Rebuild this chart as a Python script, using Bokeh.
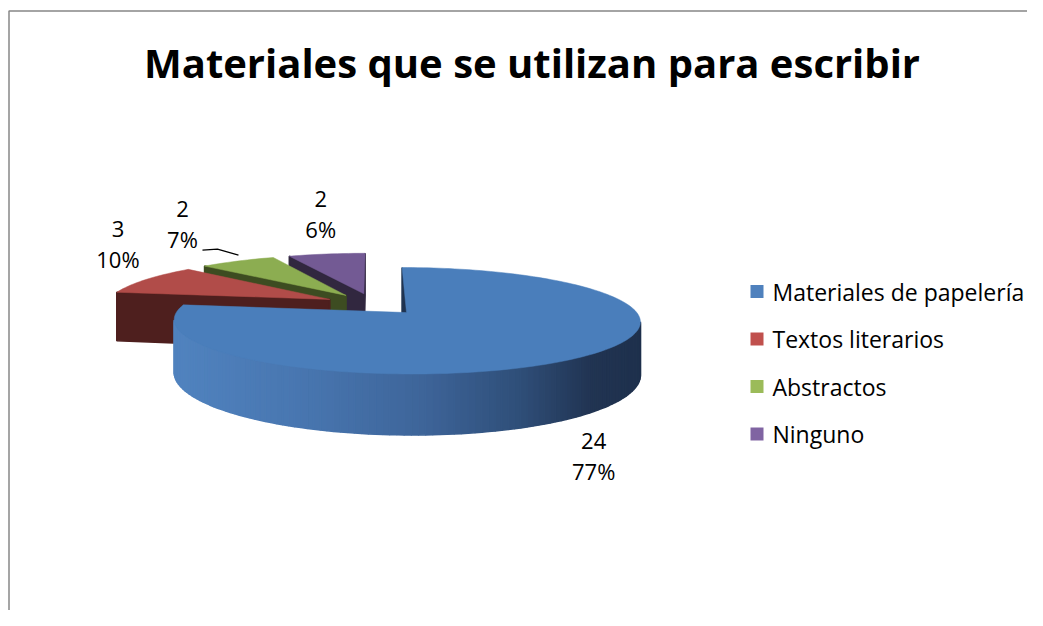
import numpy as np
from bokeh.plotting import figure
from bokeh.models import Range1d
from bokeh.core.properties import value
from bokeh.embed import file_html
from bokeh.resources import INLINE

# ---------------- data ----------------
TITLE = "Materiales que se utilizan para escribir"
CATEGORIES = ["Materiales de papelería", "Textos literarios", "Abstractos", "Ninguno"]
VALUES = [24, 3, 2, 2]
PERCENT_LABELS = ["77%", "10%", "7%", "6%"]

# ---------------- style ----------------
TOP_COLORS = ["#4A7EBB", "#B14C49", "#8CAD51", "#735A94"]
WALL_COLORS = ["#1F3350", "#4E1F1E", "#3D4C21", "#31273F"]
LEGEND_COLORS = ["#4F81BD", "#C0504D", "#9BBB59", "#8064A2"]
BLUE_GRAD = [(181, (80, 130, 190)), (300, (72, 118, 176)), (420, (62, 101, 154)),
             (520, (47, 78, 120)), (590, (33, 52, 82)), (645, (30, 48, 76))]
FONT = "Open Sans"

# geometry of the projected 3D pie
CX, CY = 373.0, 303.6
R, K = 224.5, 49.4
PERSP = 0.15
PERSP_X = 0.15
THICK = 50.3
EXPLODE = 0.22
LABEL_OFFSETS = [(13, 99), (-28, -36), (-55, -37), (-6, -40)]


def proj(X, Z, h=0.0):
    f = 1.0 / (1.0 + PERSP * Z)
    fx = 1.0 / (1.0 + PERSP_X * Z)
    return CX + X * R * fx, CY - Z * K * f + h * f


def area(xs, ys):
    s = 0.0
    n = len(xs)
    for i in range(n):
        j = (i + 1) % n
        s += xs[i] * ys[j] - xs[j] * ys[i]
    return s / 2.0


def grad_color(x):
    if x <= BLUE_GRAD[0][0]:
        c = BLUE_GRAD[0][1]
    elif x >= BLUE_GRAD[-1][0]:
        c = BLUE_GRAD[-1][1]
    else:
        for (x0, c0), (x1, c1) in zip(BLUE_GRAD[:-1], BLUE_GRAD[1:]):
            if x0 <= x <= x1:
                t = (x - x0) / (x1 - x0)
                c = tuple(c0[k] + (c1[k] - c0[k]) * t for k in range(3))
                break
    return "#%02x%02x%02x" % tuple(int(round(v)) for v in c)


W, H = 1027, 610
p = figure(width=W, height=H, output_backend="svg", toolbar_location=None,
           x_range=Range1d(0, W), y_range=Range1d(H, 0),
           min_border=0, outline_line_color=None, background_fill_color="white",
           border_fill_color="white")
p.axis.visible = False
p.grid.visible = False

# chart border (only top and left visible in reference)
p.line([8.5, 8.5, 1045], [630, 10.5, 10.5], line_color="#878787", line_width=1.5)

# title
p.text(x=[531.5], y=[62], text=[TITLE], text_font=value(FONT), text_font_style="bold",
       text_font_size=value("40px"), text_align="center", text_baseline="middle",
       text_color="black")

# ---------------- pie ----------------
total = float(sum(VALUES))
fracs = np.array(VALUES) / total
ends = np.cumsum(fracs) * 2 * np.pi
starts = ends - fracs * 2 * np.pi

slices = []
for i in range(len(VALUES)):
    a0, a1 = starts[i], ends[i]
    mid = 0.5 * (a0 + a1)
    ox, oz = EXPLODE * np.sin(mid), EXPLODE * np.cos(mid)
    n = max(4, int(np.degrees(a1 - a0) / 1.5))
    th = np.linspace(a0, a1, n)
    pts = [(ox, oz)] + [(ox + np.sin(t), oz + np.cos(t)) for t in th] + [(ox, oz)]
    slices.append(dict(i=i, mid=mid, ox=ox, oz=oz, pts=pts))

order = sorted(slices, key=lambda s: -s["oz"])
for s in order:
    i = s["i"]
    pts = s["pts"]
    wxs, wys, wcols = [], [], []
    for k in range(len(pts) - 1):
        A, B = pts[k], pts[k + 1]
        if abs(A[0] - B[0]) < 1e-12 and abs(A[1] - B[1]) < 1e-12:
            continue
        pa, pb = proj(A[0], A[1]), proj(B[0], B[1])
        pbb, pab = proj(B[0], B[1], THICK), proj(A[0], A[1], THICK)
        qx = [pa[0], pb[0], pbb[0], pab[0]]
        qy = [pa[1], pb[1], pbb[1], pab[1]]
        if area(qx, qy) < 0:
            radial = (k == 0) or (k == len(pts) - 2)
            if i == 0 and not radial:
                col = grad_color(0.5 * (pa[0] + pb[0]))
            else:
                col = WALL_COLORS[i]
            wxs.append(qx)
            wys.append(qy)
            wcols.append(col)
    if wxs:
        p.patches(xs=wxs, ys=wys, fill_color=wcols, line_color=wcols, line_width=1.6)
    tx, ty = zip(*[proj(a, b) for a, b in pts])
    p.patch(list(tx), list(ty), fill_color=TOP_COLORS[i], line_color=TOP_COLORS[i],
            line_width=0.5)

# ---------------- data labels ----------------
for s in slices:
    i = s["i"]
    ax, ay = proj(s["ox"] + np.sin(s["mid"]), s["oz"] + np.cos(s["mid"]))
    lx, ly = ax + LABEL_OFFSETS[i][0], ay + LABEL_OFFSETS[i][1]
    p.text(x=[lx, lx], y=[ly - 15, ly + 15], text=[str(VALUES[i]), PERCENT_LABELS[i]],
           text_font=value(FONT), text_font_size=value("22px"), text_align="center",
           text_baseline="middle", text_color="black")
    if i == 2:
        p.line([ax - 35, ax - 20, ax + 1], [ay - 11, ay - 12, ay - 6],
               line_color="black", line_width=1.2)

# ---------------- legend ----------------
LEG_X, LEG_Y, LEG_DY = 756.5, 291, 47.5
ly = [LEG_Y + k * LEG_DY for k in range(len(CATEGORIES))]
p.rect(x=[LEG_X] * len(CATEGORIES), y=ly, width=13, height=13,
       fill_color=LEGEND_COLORS, line_color=None)
p.text(x=[LEG_X + 15.5] * len(CATEGORIES), y=ly, text=CATEGORIES, text_font=value(FONT),
       text_font_size=value("23px"), text_align="left", text_baseline="middle",
       text_color="black")

open("out.html", "w").write(file_html(p, INLINE))
